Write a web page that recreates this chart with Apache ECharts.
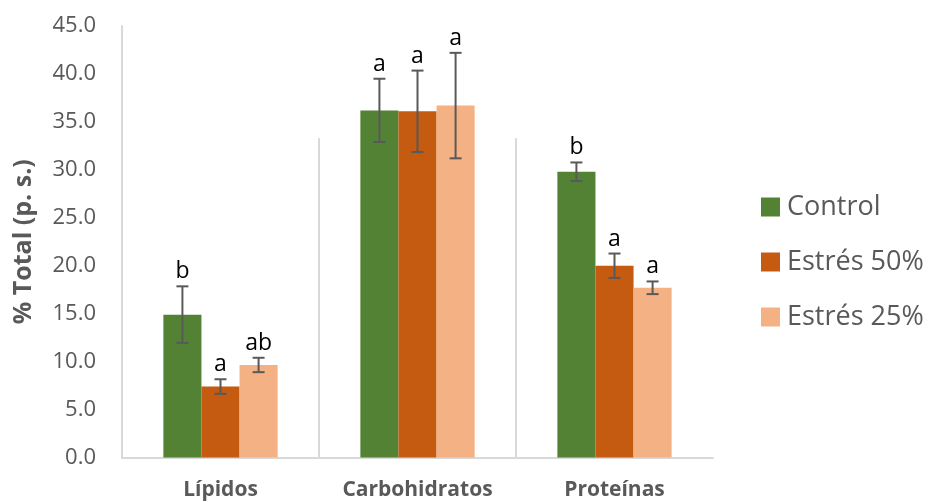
<!DOCTYPE html>
<html>
<head>
<meta charset="utf-8">
<script src="https://cdn.jsdelivr.net/npm/echarts@6/dist/echarts.min.js"></script>
<style>
  html, body { margin: 0; padding: 0; background: #fff; }
  #chart { width: 928px; height: 502px; }
</style>
</head>
<body>
<div id="chart"></div>
<script>
// Composition (% of dry weight) by treatment
const categories = ['Lípidos', 'Carbohidratos', 'Proteínas'];
const seriesNames = ['Control', 'Estrés 50%', 'Estrés 25%'];

const controlMean = [14.9, 36.2, 29.8];
const controlErr  = [2.95, 3.3, 0.97];
const estres50Mean = [7.4, 36.1, 20.0];
const estres50Err  = [0.76, 4.25, 1.27];
const estres25Mean = [9.65, 36.7, 17.7];
const estres25Err  = [0.75, 5.5, 0.66];

const controlLetters  = ['b', 'a', 'b'];
const estres50Letters = ['a', 'a', 'a'];
const estres25Letters = ['ab', 'a', 'a'];

const yTicks = [0, 5, 10, 15, 20, 25, 30, 35, 40, 45];

const colors = ['#548235', '#C55A11', '#F4B183'];
const FONT = '"Open Sans", "Noto Sans", sans-serif';
const GREY = '#595959';
const CAT_GAP = 0.42;
const SEP_TOP = 33.3;

const means = [controlMean, estres50Mean, estres25Mean];
const errs = [controlErr, estres50Err, estres25Err];
const letters = [controlLetters, estres50Letters, estres25Letters];

const barSeries = seriesNames.map((name, i) => ({
  name: name,
  type: 'bar',
  data: means[i],
  barGap: '0%',
  barCategoryGap: (CAT_GAP * 100) + '%',
  itemStyle: { color: colors[i] },
  z: 2
}));

function errorSeries(i) {
  const data = categories.map((c, k) => [k, means[i][k] - errs[i][k], means[i][k] + errs[i][k], letters[i][k]]);
  return {
    type: 'custom',
    name: seriesNames[i] + ' err',
    data: data,
    dimensions: ['x', 'low', 'high', 'letter'],
    encode: { x: 0, y: [1, 2] },
    z: 5,
    silent: true,
    renderItem: function (params, api) {
      const k = api.value(0);
      const lo = api.coord([k, api.value(1)]);
      const hi = api.coord([k, api.value(2)]);
      const band = api.size([1, 0])[0];
      const barW = band * (1 - CAT_GAP) / 3;
      const x = lo[0] + (i - 1) * barW;
      const cap = 6;
      const st = { stroke: '#595959', lineWidth: 2 };
      return {
        type: 'group',
        children: [
          { type: 'line', shape: { x1: x, y1: lo[1], x2: x, y2: hi[1] }, style: st },
          { type: 'line', shape: { x1: x - cap, y1: lo[1], x2: x + cap, y2: lo[1] }, style: st },
          { type: 'line', shape: { x1: x - cap, y1: hi[1], x2: x + cap, y2: hi[1] }, style: st },
          { type: 'text', x: x, y: hi[1] - 3,
            style: { text: letters[i][k], fill: '#000', font: '23px ' + FONT,
                     textAlign: 'center', textVerticalAlign: 'bottom' } }
        ]
      };
    }
  };
}

// Light vertical dividers between category groups
const separatorSeries = {
  type: 'custom',
  data: [[0, SEP_TOP], [1, SEP_TOP]],
  silent: true,
  z: 1,
  renderItem: function (params, api) {
    const k = api.value(0);
    const a = api.coord([k, 0]);
    const b = api.coord([k + 1, 0]);
    const top = api.coord([k, api.value(1)]);
    const x = (a[0] + b[0]) / 2;
    return { type: 'line', shape: { x1: x, y1: a[1], x2: x, y2: top[1] },
             style: { stroke: '#d9d9d9', lineWidth: 2 } };
  }
};

const chart = echarts.init(document.getElementById('chart'), null, { renderer: 'canvas' });
chart.setOption({
  backgroundColor: '#fff',
  animation: false,
  textStyle: { fontFamily: FONT },
  grid: { left: 122, right: 215, top: 26, bottom: 44.5, containLabel: false },
  legend: {
    data: seriesNames,
    orient: 'vertical',
    left: 756,
    top: 188,
    icon: 'rect',
    itemWidth: 19,
    itemHeight: 19,
    itemGap: 27,
    textStyle: { fontSize: 27, lineHeight: 28, color: GREY, fontFamily: FONT, padding: [0, 0, 0, 2] }
  },
  xAxis: {
    type: 'category',
    data: categories,
    axisLine: { lineStyle: { color: '#d9d9d9', width: 2 } },
    axisTick: { show: false },
    axisLabel: { fontSize: 21, fontWeight: 'bold', color: GREY, margin: 22, fontFamily: FONT },
    splitLine: { show: false }
  },
  yAxis: {
    type: 'value',
    min: yTicks[0],
    max: yTicks[yTicks.length - 1],
    interval: yTicks[1] - yTicks[0],
    name: '% Total (p. s.)',
    nameLocation: 'middle',
    nameGap: 86,
    nameRotate: 90,
    nameTextStyle: { fontSize: 25, fontWeight: 'bold', color: GREY, fontFamily: FONT },
    axisLine: { show: true, lineStyle: { color: '#d9d9d9', width: 2 } },
    axisTick: { show: false },
    splitLine: { show: false },
    axisLabel: { fontSize: 22, color: GREY, margin: 26, fontFamily: FONT,
                 formatter: v => v.toFixed(1) }
  },
  series: [separatorSeries, ...barSeries, errorSeries(0), errorSeries(1), errorSeries(2)]
});
</script>
</body>
</html>
